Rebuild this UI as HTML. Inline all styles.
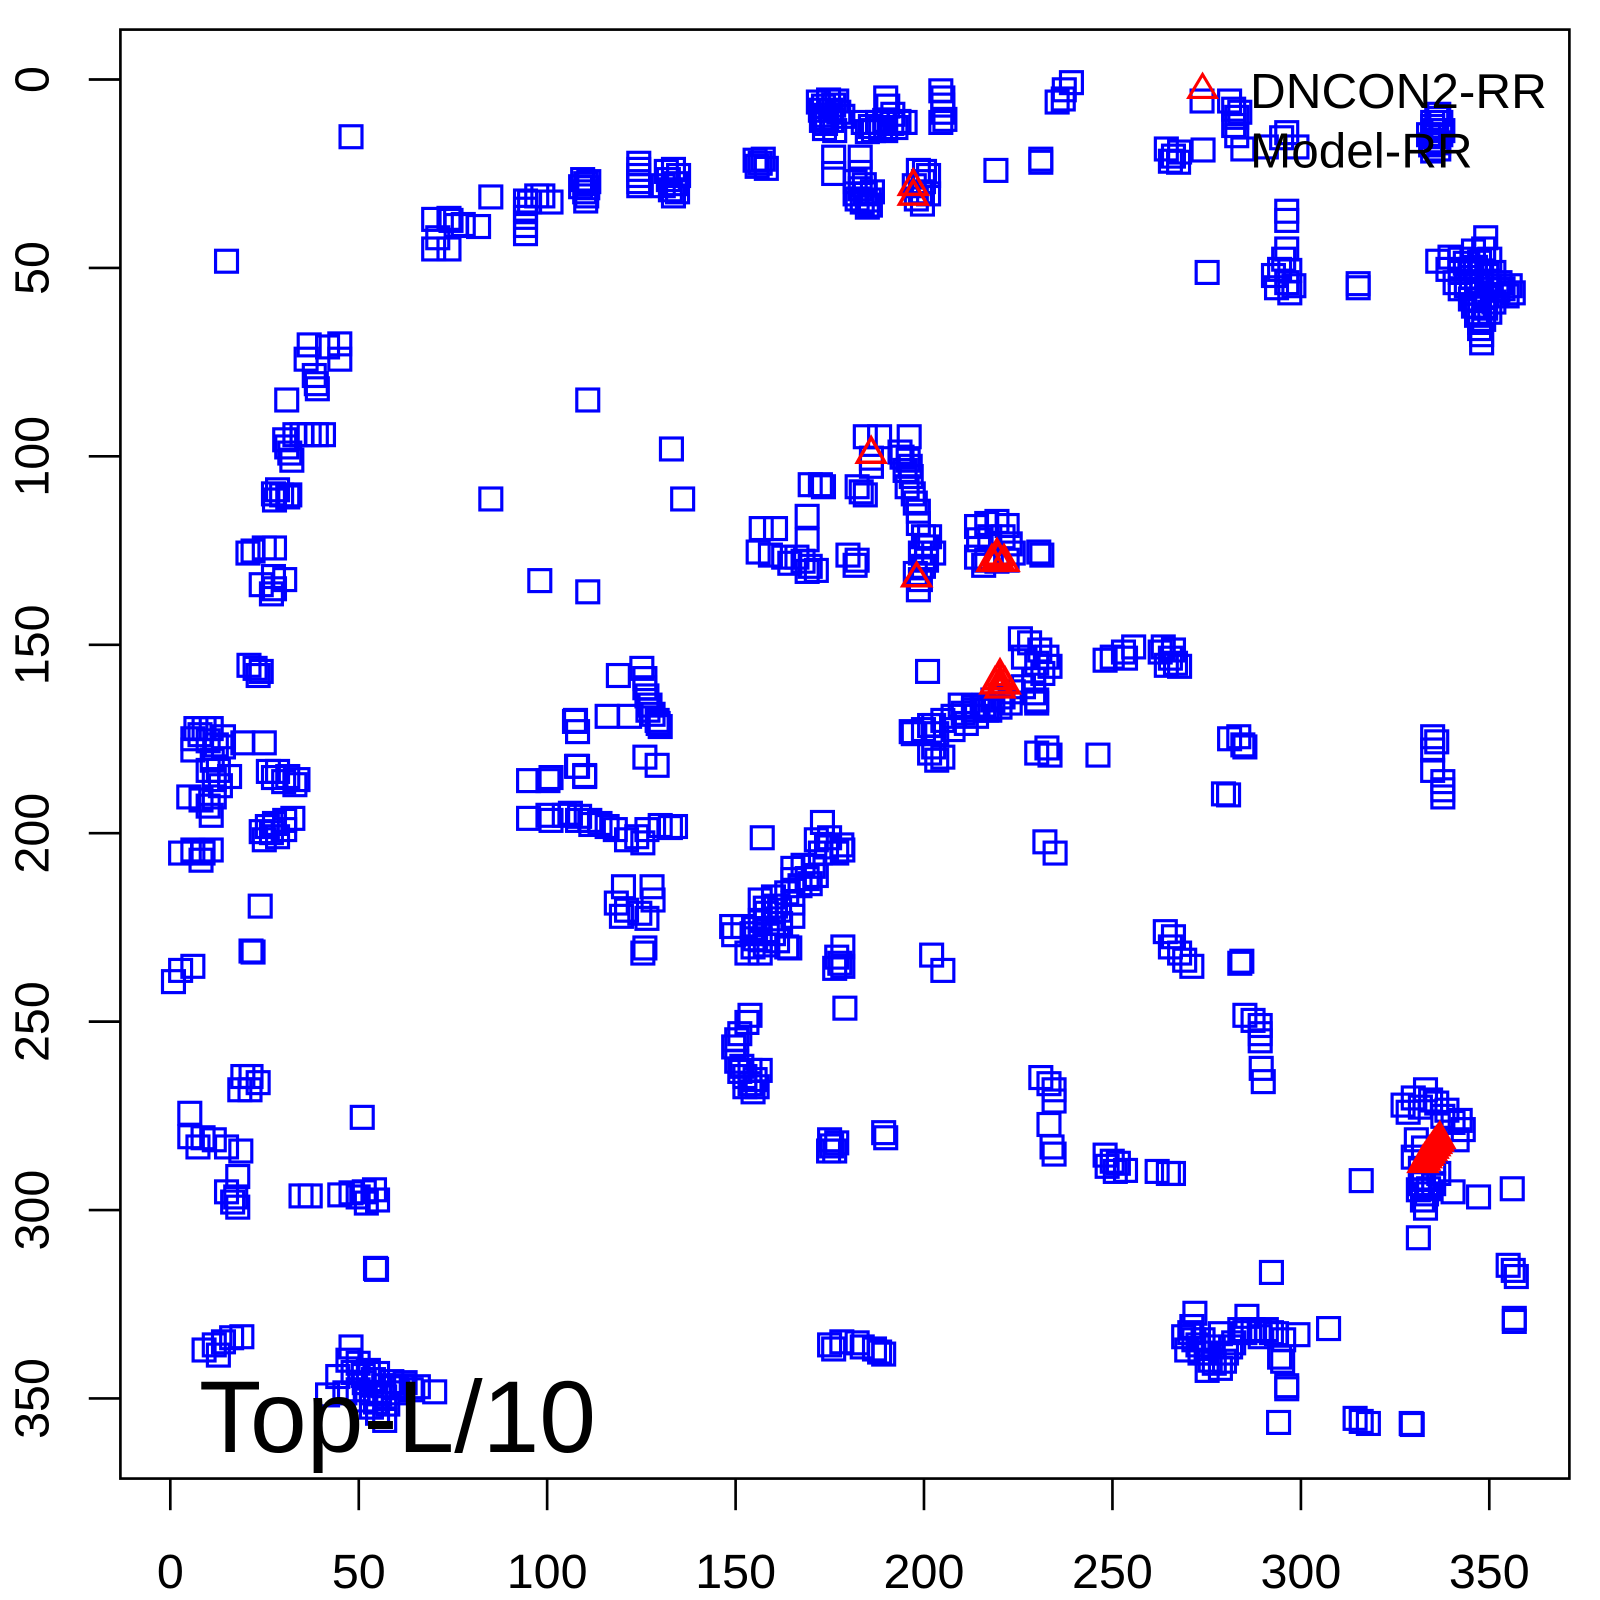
<!DOCTYPE html>
<html>
<head>
<meta charset="utf-8">
<style>
html,body{margin:0;padding:0;background:#fff;}
svg{display:block;}
text{font-family:"Liberation Sans",Arial,Helvetica,sans-serif;fill:#000;}
</style>
</head>
<body>
<svg width="1600" height="1600" viewBox="0 0 1568 1568" xmlns="http://www.w3.org/2000/svg">
<defs>
<marker id="s" markerUnits="userSpaceOnUse" markerWidth="30" markerHeight="30" refX="15" refY="15" overflow="visible">
<rect x="4.25" y="4.25" width="21.5" height="21.5" fill="none" stroke="#0000ff" stroke-width="3.1"/>
</marker>
</defs>
<rect x="0" y="0" width="1568" height="1568" fill="#fff"/>

<!-- Squares (Model-RR) -->
<g fill="none" stroke="none" marker-start="url(#s)" marker-mid="url(#s)" marker-end="url(#s)">
<polyline points="344,134 222,256 425,215 440,214 454,220 469,222 425,244 440,244 429,233 447,221 442,216 481,193 515,197 515,205 515,213 515,221 515,229 526,192 532,192 540,198 519,198 571,176 574,180 576,184 573,188 575,192 574,197 569,183 577,178 626,160 626,166 626,172 626,178 626,182 653,168 660,166 665,172 655,176 662,180 657,186 664,188 650,182 660,192 740,157 745,160 751,165 742,163 748,156"/>
<polyline points="802,100 812,98 820,99 804,108 814,108 822,110 805,118 815,118 808,126 818,128 810,113 868,96 846,120 853,124 860,120 867,118 874,121 881,119 887,120 856,128 868,128 875,112 870,104 817,154 817,170 843,154 843,169 838,178 843,185 848,190 852,196 845,198 850,203 838,190 855,188 922,89 924,96 924,103 924,110 926,117 922,120 900,167 906,168 910,172 905,178 896,182 902,188 910,190 898,195 904,200 976,167 1020,156 1020,159 1036,100 1042,97 1043,88 1050,81"/>
<polyline points="807,104 817,103 809,121 863,125 878,125 850,129 847,181 853,201 840,195 810,116 826,114"/>
<polyline points="1178,99 1205,99 1209,107 1212,115 1209,123 1215,110 1212,133 1218,146 1143,146 1150,153 1156,149 1147,158 1155,159 1179,147 1256,135 1271,144 1241,144 1261,130 1410,112 1412,120 1406,128 1414,128 1400,132 1408,138 1402,142 1410,146 1404,120 1261,207 1261,216 1261,244 1258,254 1254,264 1264,265 1248,270 1261,277 1268,280 1251,282 1264,287 1183,267 1331,278 1331,282"/>
<polyline points="1408,116 1404,124 1412,132 1406,134 1410,140 1404,148"/>
<polyline points="1409,256 1421,252 1431,254 1444,246 1454,244 1456,233 1419,264 1431,267 1441,264 1450,257 1460,254 1426,277 1437,280 1447,277 1457,270 1464,267 1470,277 1480,280 1483,287 1477,290 1467,290 1457,290 1447,287 1444,300 1454,300 1464,296 1447,309 1454,313 1450,322 1452,336 1441,293 1431,283 1473,283 1460,306"/>
<polyline points="1436,258 1446,262 1452,266 1442,272 1452,276 1460,280 1468,284 1450,294 1456,302 1450,316 1452,328"/>
<polyline points="300,352 303,338 321,340 333,337 333,352 308,368 310,376 311,381 281,392 289,426 296,426 303,426 310,426 317,426 281,438 284,444 286,451 279,431 268,484 276,485 284,485 272,480 282,487 269,490 248,540 259,537 269,537 243,542 256,573 268,565 279,568 269,577 266,582 244,652 250,655 256,658 253,662 481,489 529,569 576,392 576,580 658,440 669,489"/>
<polyline points="848,428 862,428 854,449 854,457 891,428 884,448 890,451 887,461 893,467 889,477 895,484 897,493 900,501 882,443 892,457 900,513 905,526 908,536 902,542 908,549 905,555 897,562 902,568 900,578 915,542 911,526 957,516 967,513 977,511 987,515 959,529 970,526 983,526 990,533 957,546 967,549 977,550 987,549 993,542 964,554 1018,541 1021,544"/>
<polyline points="746,518 760,518 743,541 755,544 768,546 781,546 794,555 787,550 774,552 800,559 791,560 791,506 791,529 794,475 804,475 807,477 840,477 848,485 844,482 831,544 838,554 840,549"/>
<polyline points="606,662 629,655 632,674 637,691 645,709 595,702 617,702 632,665 634,682 640,700 635,696 644,706 647,712 564,706 566,717 563,707"/>
<polyline points="192,714 200,714 207,714 189,724 189,735 219,722 219,732 238,728 259,728 204,755 214,755 225,761 210,764 185,781 197,784 210,781 207,799 263,756 272,756 282,761 292,764 289,769 256,815 269,807 279,804 287,802 259,823 266,816 279,813 177,836 189,833 199,836 207,833 197,843 255,888 246,932 248,933 170,962 177,951 189,947 518,765 537,765 540,762 565,751 573,760 518,802 537,799 540,804 566,804 579,808 553,799"/>
<polyline points="196,720 204,726 212,730 208,745 216,770 204,790 268,762 278,766 262,810 272,820"/>
<polyline points="632,742 644,750 566,751 573,761 559,797 568,800 578,804 588,807 595,810 603,813 624,820 634,813 647,809 657,811 662,810 630,826 614,823 611,869 639,869 604,885 614,892 627,895 634,900 640,882 609,898 632,929 630,934 747,821"/>
<polyline points="806,806 800,823 813,821 825,828 804,836 820,836 826,833 777,851 787,848 797,849 777,862 791,861 800,858 745,882 758,879 771,875 777,885 751,895 764,892 777,898 745,902 758,905 717,908 728,908 737,915 745,921 758,915 771,928 732,934 745,934 738,928 719,916 774,929 826,928 820,938 823,944 818,949 826,947 828,988 913,936 924,951"/>
<polyline points="750,890 760,888 740,910 752,912 765,905 740,920 750,926 762,922 784,868 794,866 810,830"/>
<polyline points="735,995 732,1002 725,1013 722,1019 719,1026 727,1045 735,1049 745,1049 722,1040 730,1055 740,1058 735,1062 742,1065 730,1065 738,1070 725,1050 813,1117 815,1123 818,1128 812,1128 820,1120 866,1110 868,1115 813,1318 817,1322 825,1315 840,1316 845,1320 857,1322 862,1325 866,1327"/>
<polyline points="893,717 911,711 918,719 915,732 924,742 934,715 947,709 957,702 967,696 980,693 990,689 1016,689 941,691 954,693 911,738 918,745 1016,738 1026,733 1029,740 1024,825 1034,836 1000,626 1009,630 1019,637 1026,644 1029,653 1016,650 1003,644 1022,660 1013,666 1003,673 993,678 983,683 973,686 964,691 954,696 944,699 934,702 924,706 915,711 905,715 895,719 1016,686 1013,679 970,696 909,658"/>
<polyline points="1083,647 1090,644 1101,639 1111,634 1103,645 1137,639 1147,645 1152,650 1143,652 1156,653 1140,634 1150,637 1076,740 1205,724 1214,722 1218,730 1220,732 1199,778 1204,779 1142,913 1150,918 1147,928 1156,934 1161,941 1168,947 1217,942 1215,944 1220,995 1228,1000 1235,1005 1235,1013 1235,1020 1236,1047 1238,1060 1404,722 1408,727 1404,735 1404,755 1414,766 1414,774 1414,781"/>
<polyline points="1020,1056 1028,1062 1033,1068 1033,1079 1028,1102 1031,1124 1033,1131"/>
<polyline points="238,1055 246,1055 235,1068 245,1068 253,1061 186,1091 186,1114 199,1115 210,1117 222,1124 236,1128 194,1124 233,1153 222,1168 231,1173 233,1183 228,1178 295,1172 304,1172 333,1171 344,1169 357,1168 367,1166 370,1176 359,1179 351,1173 355,1095 368,1243 369,1244 200,1323 210,1318 219,1315 227,1311 237,1310 214,1328"/>
<polyline points="344,1320 341,1333 351,1336 361,1343 370,1346 384,1354 397,1355 410,1359 426,1364 321,1367 338,1365 351,1362 364,1365 377,1369 390,1365 403,1362 370,1385 377,1392 364,1379 357,1355 331,1349"/>
<polyline points="346,1345 356,1348 366,1352 376,1358 386,1360 358,1372 368,1374 380,1376 372,1366 394,1358"/>
<polyline points="1083,1132 1090,1138 1096,1140 1103,1147 1093,1148 1085,1143 1134,1148 1145,1150 1150,1150 1375,1083 1385,1076 1397,1068 1408,1081 1418,1088 1431,1098 1434,1107 1428,1117 1388,1117 1385,1134 1395,1156 1398,1170 1397,1184 1424,1168 1449,1173 1390,1166 1405,1160 1395,1125 1405,1140 1392,1145 1410,1150 1334,1157 1482,1165 1390,1213 1246,1247 1478,1240 1483,1245 1486,1251 1484,1295 1484,1292"/>
<polyline points="1380,1090 1392,1085 1402,1078 1414,1094 1424,1100 1392,1160 1400,1165 1394,1176"/>
<polyline points="1171,1287 1168,1300 1160,1310 1170,1313 1179,1313 1163,1323 1176,1326 1186,1333 1183,1343 1196,1341 1202,1326 1209,1316 1222,1290 1215,1303 1228,1303 1241,1303 1251,1307 1258,1313 1272,1308 1254,1330 1235,1310 1196,1307 1189,1320 1302,1302 1257,1334 1261,1361 1261,1358 1253,1394 1328,1390 1334,1393 1341,1395 1383,1395 1384,1396"/>
<polyline points="1166,1306 1174,1318 1182,1326 1190,1336 1200,1334 1206,1320 1220,1306 1234,1304 1246,1306"/>
</g>

<!-- Triangles (DNCON2-RR) -->
<g fill="none" stroke="#ff0000" stroke-width="3.4" stroke-linejoin="miter">
<polygon points="840.2,453 853.7,429 867.2,453"/>
<polygon points="881.5,190.5 895,167 908.5,190.5"/>
<polygon points="881.5,200 895,177 908.5,200"/>
<polygon points="884.8,574 898.3,552 911.8,574"/>
<polygon points="963.5,553 977,529 990.5,553"/>
<polygon points="958.5,559 972,535 985.5,559"/>
<polygon points="970.5,559 984,535 997.5,559"/>
<polygon points="964.5,556 978,532 991.5,556"/>
<polygon points="966.5,671 980,647 993.5,671"/>
<polygon points="961.5,679 975,655 988.5,679"/>
<polygon points="971.5,679 985,655 998.5,679"/>
<polygon points="966.5,683 980,659 993.5,683"/>
<polygon points="964.5,675 978,651 991.5,675"/>
<polygon points="968.5,675 982,651 995.5,675"/>
<polygon points="1381,1148 1394.5,1124 1408,1148"/>
<polygon points="1382.7,1145.7 1396.2,1121.7 1409.7,1145.7"/>
<polygon points="1384.3,1143.3 1397.8,1119.3 1411.3,1143.3"/>
<polygon points="1386,1141 1399.5,1117 1413,1141"/>
<polygon points="1387.6,1138.6 1401.1,1114.6 1414.6,1138.6"/>
<polygon points="1389.3,1136.3 1402.8,1112.3 1416.3,1136.3"/>
<polygon points="1390.9,1134 1404.4,1110 1417.9,1134"/>
<polygon points="1392.6,1131.6 1406.1,1107.6 1419.6,1131.6"/>
<polygon points="1394.2,1129.3 1407.7,1105.3 1421.2,1129.3"/>
<polygon points="1395.9,1127 1409.4,1103 1422.9,1127"/>
<polygon points="1397.5,1124.6 1411,1100.6 1424.5,1124.6"/>
</g>

<!-- Plot box -->
<rect x="118" y="29" width="1420" height="1420" fill="none" stroke="#000" stroke-width="2.6"/>

<!-- Ticks -->
<g stroke="#000" stroke-width="2.6">
<line x1="166.9" y1="1449" x2="166.9" y2="1480"/>
<line x1="351.6" y1="1449" x2="351.6" y2="1480"/>
<line x1="536.2" y1="1449" x2="536.2" y2="1480"/>
<line x1="720.9" y1="1449" x2="720.9" y2="1480"/>
<line x1="905.5" y1="1449" x2="905.5" y2="1480"/>
<line x1="1090.2" y1="1449" x2="1090.2" y2="1480"/>
<line x1="1274.9" y1="1449" x2="1274.9" y2="1480"/>
<line x1="1459.5" y1="1449" x2="1459.5" y2="1480"/>
<line x1="118" y1="77.9" x2="87" y2="77.9"/>
<line x1="118" y1="262.6" x2="87" y2="262.6"/>
<line x1="118" y1="447.2" x2="87" y2="447.2"/>
<line x1="118" y1="631.9" x2="87" y2="631.9"/>
<line x1="118" y1="816.5" x2="87" y2="816.5"/>
<line x1="118" y1="1001.2" x2="87" y2="1001.2"/>
<line x1="118" y1="1185.9" x2="87" y2="1185.9"/>
<line x1="118" y1="1370.5" x2="87" y2="1370.5"/>
</g>

<!-- X labels -->
<g font-size="47.5" text-anchor="middle">
<text x="166.9" y="1556">0</text>
<text x="351.6" y="1556">50</text>
<text x="536.2" y="1556">100</text>
<text x="720.9" y="1556">150</text>
<text x="905.5" y="1556">200</text>
<text x="1090.2" y="1556">250</text>
<text x="1274.9" y="1556">300</text>
<text x="1459.5" y="1556">350</text>
</g>

<!-- Y labels -->
<g font-size="47.5" text-anchor="middle">
<text transform="translate(47.5,77.9) rotate(-90)">0</text>
<text transform="translate(47.5,262.6) rotate(-90)">50</text>
<text transform="translate(47.5,447.2) rotate(-90)">100</text>
<text transform="translate(47.5,631.9) rotate(-90)">150</text>
<text transform="translate(47.5,816.5) rotate(-90)">200</text>
<text transform="translate(47.5,1001.2) rotate(-90)">250</text>
<text transform="translate(47.5,1185.9) rotate(-90)">300</text>
<text transform="translate(47.5,1370.5) rotate(-90)">350</text>
</g>

<!-- Legend -->
<polygon points="1165,95.5 1178.5,73 1192,95.5" fill="none" stroke="#ff0000" stroke-width="3"/>
<text x="1225" y="106" font-size="48.5">DNCON2-RR</text>
<text x="1225" y="164" font-size="48.5">Model-RR</text>

<!-- Annotation -->
<text x="195" y="1423" font-size="100">Top-L/10</text>
</svg>
</body>
</html>
